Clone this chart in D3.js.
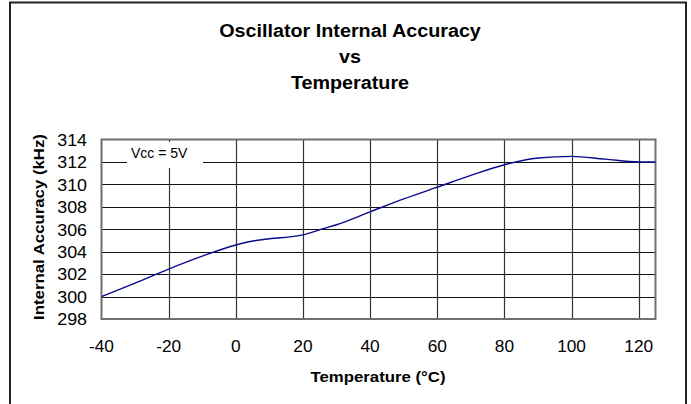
<!DOCTYPE html>
<html>
<head>
<meta charset="utf-8">
<script src="https://cdn.jsdelivr.net/npm/d3@7"></script>
<style>
html,body{margin:0;padding:0;background:#fff;}
svg{display:block;}
text{font-family:"Liberation Sans",Arial,sans-serif;fill:#000;}
</style>
</head>
<body>
<svg id="chart" width="691" height="404"></svg>
<script>
const titleLines = ["Oscillator Internal Accuracy", "vs", "Temperature"];
const xLabel = "Temperature (°C)";
const yLabel = "Internal Accuracy (kHz)";
const noteText = "Vcc = 5V";
const xTicks = [-40, -20, 0, 20, 40, 60, 80, 100, 120];
const yTicks = [298, 300, 302, 304, 306, 308, 310, 312, 314];
const temperature = [-40, -30, -20, -10, 0, 6, 10, 20, 26, 30, 40, 50, 60, 70, 80, 90, 100, 110, 120, 125];
const frequency = [300.0, 301.2, 302.45, 303.6, 304.6, 305.0, 305.15, 305.5, 306.05, 306.4, 307.55, 308.7, 309.75, 310.8, 311.75, 312.35, 312.5, 312.25, 312.0, 312.0];

const svg = d3.select("#chart");
const x = d3.scaleLinear().domain([-40, 125]).range([101.5, 655.5]);
const y = d3.scaleLinear().domain([298, 314]).range([319, 139.5]);

// outer border
svg.append("rect").attr("x", 10).attr("y", 2.5).attr("width", 676).attr("height", 420)
  .attr("fill", "none").attr("stroke", "#222").attr("stroke-width", 2);

function stretchedText(g, tx, ty, str, size, sx, weight, anchor, rot) {
  return g.append("text")
    .attr("transform", `translate(${tx},${ty})` + (rot ? ` rotate(${rot})` : "") + ` scale(${sx},1)`)
    .attr("text-anchor", anchor)
    .style("font-size", size + "px")
    .style("font-weight", weight)
    .text(str);
}

// title
const titleY = [37, 63, 89];
titleLines.forEach((t, i) => stretchedText(svg, 350, titleY[i], t, 17.5, 1.13, "bold", "middle"));

// gridlines
const grid = svg.append("g");
grid.selectAll("line.h").data(yTicks.filter(v => v > 298 && v < 314)).join("line")
  .attr("x1", x(-40)).attr("x2", x(125))
  .attr("y1", d => Math.round(y(d)) + 0.5).attr("y2", d => Math.round(y(d)) + 0.5)
  .attr("stroke", "#111").attr("stroke-width", 1);
grid.selectAll("line.v").data(xTicks.filter(v => v > -40)).join("line")
  .attr("y1", y(314)).attr("y2", y(298))
  .attr("x1", d => Math.round(x(d)) + 0.5).attr("x2", d => Math.round(x(d)) + 0.5)
  .attr("stroke", "#333").attr("stroke-width", 1.2);

// note box
svg.append("rect").attr("x", 127).attr("y", 142).attr("width", 76).attr("height", 26).attr("fill", "#fff");
svg.append("text").attr("x", 131).attr("y", 157.5).style("font-size", "14px").text(noteText);

// frame
svg.append("rect").attr("x", x(-40)).attr("y", y(314)).attr("width", x(125) - x(-40)).attr("height", y(298) - y(314))
  .attr("fill", "none").attr("stroke", "#707070").attr("stroke-width", 2);

// curve
const pts = temperature.map((t, i) => [t, frequency[i]]);
const line = d3.line().x(d => x(d[0])).y(d => y(d[1])).curve(d3.curveMonotoneX);
svg.append("path").datum(pts).attr("d", line).attr("fill", "none")
  .attr("stroke", "#0a0a8c").attr("stroke-width", 1.4);

// y tick labels
const yAxisG = svg.append("g");
yTicks.forEach(v => stretchedText(yAxisG, 87, y(v) + 6.3, String(v), 17, 1.05, "normal", "end"));

// x tick labels
const xAxisG = svg.append("g");
xTicks.forEach(v => stretchedText(xAxisG, x(v), 352, String(v), 16, 1.08, "normal", "middle"));

// axis titles
stretchedText(svg, 378, 382, xLabel, 15, 1.12, "bold", "middle");
stretchedText(svg, 44, 227, yLabel, 15, 1.12, "bold", "middle", -90);
</script>
</body>
</html>
